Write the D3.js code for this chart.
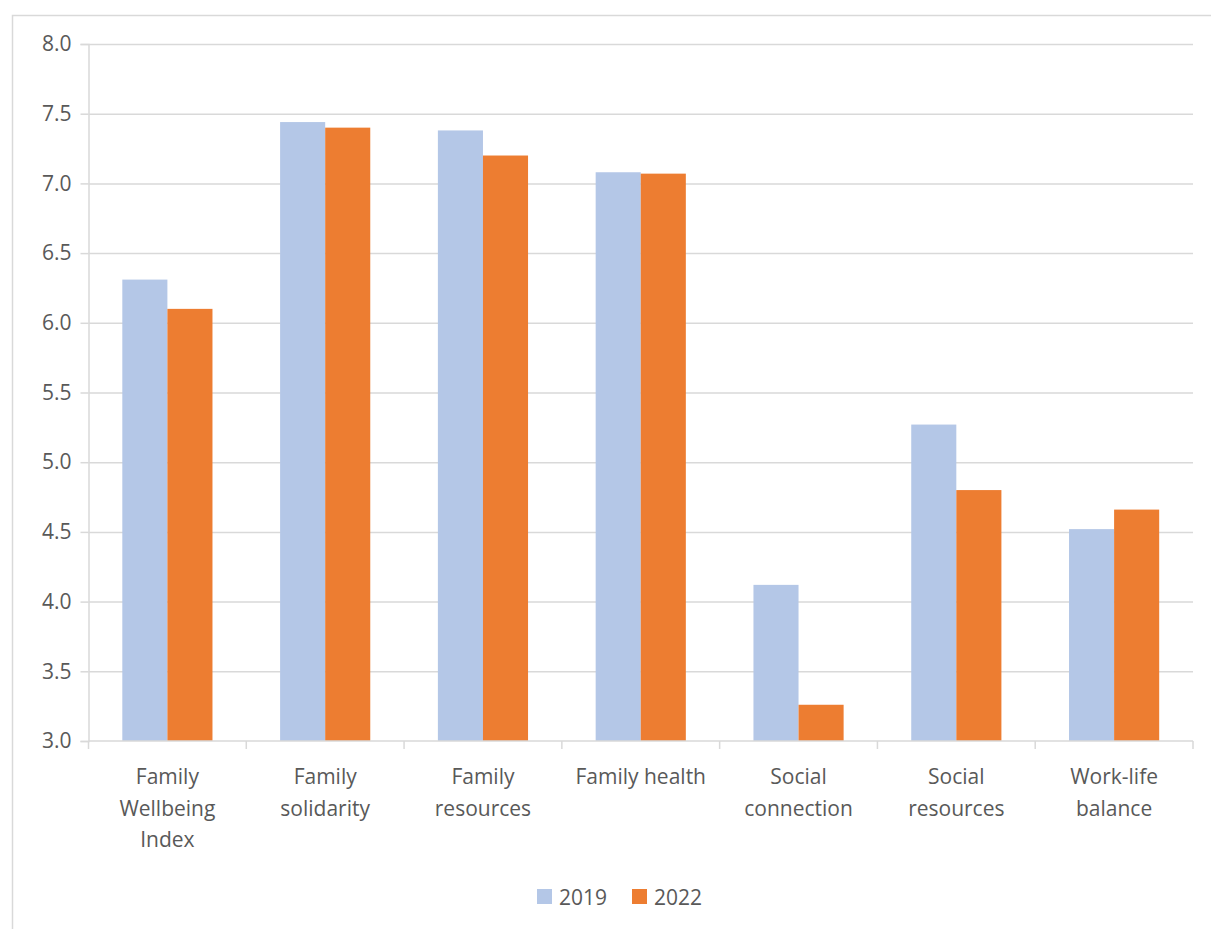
<!DOCTYPE html>
<html>
<head>
<meta charset="utf-8">
<script src="https://cdn.jsdelivr.net/npm/d3@7"></script>
<style>
  html, body { margin: 0; padding: 0; background: #fff; }
  svg { display: block; }
  text { font-family: "Open Sans", "Noto Sans", sans-serif; fill: #595959; }
</style>
</head>
<body>
<svg id="chart" width="1211" height="929"></svg>
<script>
const categories = [
  ["Family", "Wellbeing", "Index"],
  ["Family", "solidarity"],
  ["Family", "resources"],
  ["Family health"],
  ["Social", "connection"],
  ["Social", "resources"],
  ["Work-life", "balance"]
];
const seriesNames = ["2019", "2022"];
const values2019 = [6.31, 7.44, 7.38, 7.08, 4.12, 5.27, 4.52];
const values2022 = [6.10, 7.40, 7.20, 7.07, 3.26, 4.80, 4.66];
const yTicks = [3.0, 3.5, 4.0, 4.5, 5.0, 5.5, 6.0, 6.5, 7.0, 7.5, 8.0];
const colors = ["#B4C7E7", "#ED7D31"];

const svg = d3.select("#chart");
const plotLeft = 88.5, plotRight = 1193, plotTop = 44, plotBottom = 741;

// outer border
svg.append("rect").attr("x", 12.5).attr("y", 15.5).attr("width", 1230).attr("height", 940)
  .attr("fill", "none").attr("stroke", "#d9d9d9").attr("stroke-width", 1.5);

const idx = categories.map((d, i) => i);
const x = d3.scaleBand().domain(idx).range([plotLeft, plotRight]).paddingInner(1.5 / 3.5).paddingOuter(0.75 / 3.5);
const xo = d3.scaleBand().domain(seriesNames).range([0, x.bandwidth()]);
const y = d3.scaleLinear().domain([3, 8]).range([plotBottom, plotTop]);

// gridlines + y ticks
const yAxis = d3.axisLeft(y).tickValues(yTicks).tickFormat(d3.format(".1f")).tickSize(8).tickPadding(9);
const yg = svg.append("g").attr("transform", `translate(${plotLeft},0)`).call(yAxis);
yg.select(".domain").attr("stroke", "#d9d9d9").attr("stroke-width", 1.5);
yg.selectAll(".tick line").attr("stroke", "#d9d9d9").attr("stroke-width", 1.5);
yg.selectAll(".tick text").attr("font-size", 21).attr("fill", "#595959").style("font-family", "'Open Sans', sans-serif");
yg.selectAll(".tick").filter(d => d > 3).append("line")
  .attr("x1", 0).attr("x2", plotRight - plotLeft).attr("stroke", "#d9d9d9").attr("stroke-width", 1.5);

// bars
const series = [values2019, values2022];
series.forEach((vals, s) => {
  svg.append("g").selectAll("rect").data(vals).join("rect")
    .attr("x", (d, i) => x(i) + xo(seriesNames[s]))
    .attr("y", d => y(d))
    .attr("width", xo.bandwidth())
    .attr("height", d => y(3) - y(d))
    .attr("fill", colors[s]);
});

// x axis baseline and boundary ticks
const step = x.step();
const xg = svg.append("g");
xg.append("line").attr("x1", plotLeft).attr("x2", plotRight).attr("y1", plotBottom).attr("y2", plotBottom)
  .attr("stroke", "#d9d9d9").attr("stroke-width", 1.5);
d3.range(categories.length + 1).forEach(i => {
  const xx = plotLeft + i * step;
  xg.append("line").attr("x1", xx).attr("x2", xx).attr("y1", plotBottom).attr("y2", plotBottom + 8)
    .attr("stroke", "#d9d9d9").attr("stroke-width", 1.5);
});

// category labels
categories.forEach((lines, i) => {
  const cx = x(i) + x.bandwidth() / 2;
  const t = svg.append("text").attr("text-anchor", "middle").attr("font-size", 21);
  lines.forEach((ln, j) => {
    t.append("tspan").attr("x", cx).attr("y", 784 + j * 31.5).text(ln);
  });
});

// legend
const legend = svg.append("g");
const lx = [537, 632];
seriesNames.forEach((n, s) => {
  legend.append("rect").attr("x", lx[s]).attr("y", 889).attr("width", 15).attr("height", 15).attr("fill", colors[s]);
  legend.append("text").attr("x", lx[s] + 22).attr("y", 904.5).attr("font-size", 21).text(n);
});
</script>
</body>
</html>
